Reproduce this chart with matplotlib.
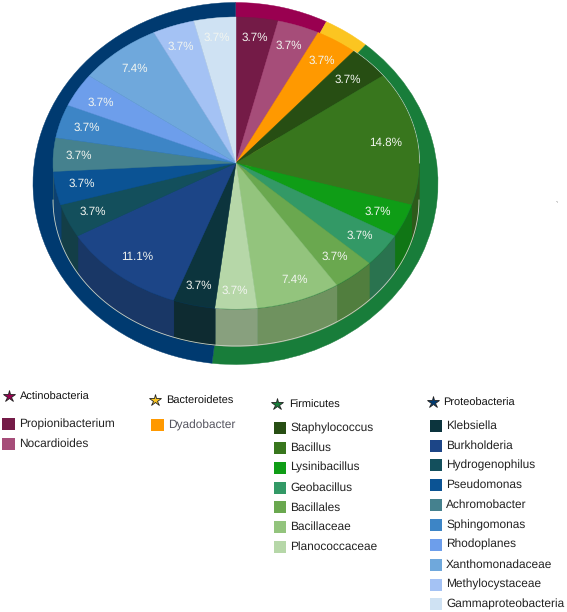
import numpy as np
import matplotlib
matplotlib.use('Agg')
import matplotlib.pyplot as plt

plt.rcParams['font.family'] = ['Liberation Sans', 'DejaVu Sans']
plt.rcParams['text.hinting'] = 'none'

W, H = 567, 612

# phylum level
phyla = ['Actinobacteria', 'Bacteroidetes', 'Firmicutes', 'Proteobacteria']
phylum_colors = ['#990050', '#fbc521', '#187d3a', '#003a70']

# genus level, clockwise from 12 o'clock
actino = ['Propionibacterium', 'Nocardioides']
actino_vals = [3.7, 3.7]
actino_colors = ['#741b47', '#a64d79']
bactero = ['Dyadobacter']
bactero_vals = [3.7]
bactero_colors = ['#ff9900']
firmi = ['Staphylococcus', 'Bacillus', 'Lysinibacillus', 'Geobacillus',
         'Bacillales', 'Bacillaceae', 'Planococcaceae']
firmi_vals = [3.7, 14.8, 3.7, 3.7, 3.7, 7.4, 3.7]
firmi_colors = ['#274e13', '#38761d', '#0f9d16', '#339966',
                '#6aa84f', '#93c47d', '#b6d7a8']
proteo = ['Klebsiella', 'Burkholderia', 'Hydrogenophilus', 'Pseudomonas',
          'Achromobacter', 'Sphingomonas', 'Rhodoplanes', 'Xanthomonadaceae',
          'Methylocystaceae', 'Gammaproteobacteria']
proteo_vals = [3.7, 11.1, 3.7, 3.7, 3.7, 3.7, 3.7, 7.4, 3.7, 3.7]
proteo_colors = ['#0c343d', '#1c4587', '#134f5c', '#0b5394', '#45818e',
                 '#3d85c6', '#6d9eeb', '#6fa8dc', '#a4c2f4', '#cfe2f3']

vals = actino_vals + bactero_vals + firmi_vals + proteo_vals
colors = actino_colors + bactero_colors + firmi_colors + proteo_colors
phylum_vals = [sum(actino_vals), sum(bactero_vals), sum(firmi_vals), sum(proteo_vals)]

# label centres in pixels, same order as vals
label_xy = [(255, 38), (289, 46), (322, 61), (348, 80), (386, 143), (378, 212),
            (360, 236), (335, 257), (295, 280), (235, 291), (199, 286), (137, 257),
            (93, 212), (82, 184), (79, 156), (87, 128), (101, 103), (135, 69),
            (181, 47), (217, 38)]

fig = plt.figure(figsize=(W / 100, H / 100), dpi=100)


def ellipse_axes(cx, cy, rx, ry, z):
    a = fig.add_axes([(cx - rx) / W, 1 - (cy + ry) / H, 2 * rx / W, 2 * ry / H], zorder=z)
    a.patch.set_alpha(0)
    return a


def pie_in(a, v, c):
    wedges, _ = a.pie(v, colors=c, startangle=90, counterclock=False, radius=1)
    for w, col in zip(wedges, c):
        w.set_edgecolor(col)
        w.set_linewidth(0.3)
    a.set_aspect('auto')
    a.set_xlim(-1, 1)
    a.set_ylim(-1, 1)


def pixel_axes(z):
    a = fig.add_axes([0, 0, 1, 1], zorder=z)
    a.patch.set_alpha(0)
    a.set_xlim(0, W)
    a.set_ylim(H, 0)
    a.axis('off')
    return a


# outer ring
ring = ellipse_axes(235.5, 183.5, 202.5, 181, 1)
pie_in(ring, phylum_vals, phylum_colors)

# side of the disc
cx, cy, rx, ry, depth = 236, 163, 183, 146, 37
side = pixel_axes(2)
ends = np.cumsum(vals) / sum(vals) * 360
starts = ends - np.array(vals) / sum(vals) * 360
for a0, a1, c in zip(starts, ends, colors):
    a0, a1 = max(a0, 90), min(a1, 270)
    if a1 <= a0:
        continue
    t = np.radians(np.linspace(a0, a1, 40))
    x = cx + rx * np.sin(t)
    y = cy - ry * np.cos(t)
    # dull the side a bit, the reference goes greyer not just darker
    rgb = np.array(matplotlib.colors.to_rgb(c)) * 0.72 + 0.02
    side.fill_between(x, y, y + depth, color=rgb, lw=0.2)
t = np.radians(np.linspace(90, 270, 200))
side.plot(cx + rx * np.sin(t), cy - ry * np.cos(t) + depth, color='#c9d2c6', lw=0.6)
t = np.radians(np.linspace(40, 90, 60))
side.plot(cx + (rx + 0.5) * np.sin(t), cy - (ry + 0.5) * np.cos(t), color='#c9d2c6', lw=0.6)

# top of the disc
top = ellipse_axes(cx, cy, rx, ry, 3)
pie_in(top, vals, colors)

# labels and legend
ax = pixel_axes(4)
for v, (lx, ly) in zip(vals, label_xy):
    ax.text(lx, ly, f'{v}%', color='#f2f5f0', fontsize=8.4, ha='center', va='center')


def legend_col(star_x, star_y, head_x, head_y, name, pcolor, box_x, first_y, labs, cols, text_x, tcolor='#222222'):
    ax.plot([star_x], [star_y], marker='*', ms=9, mfc=pcolor, mec='#222222', mew=0.6, ls='none')
    ax.text(head_x, head_y, name, fontsize=7.9, va='center', color='#111111')
    for i, (lab, col) in enumerate(zip(labs, cols)):
        yc = first_y + i * 19.85
        ax.fill([box_x, box_x + 12.5, box_x + 12.5, box_x],
                [yc - 6, yc - 6, yc + 6, yc + 6], color=col, lw=0)
        ax.text(text_x, yc, lab, fontsize=8.6, va='center', color=tcolor)


legend_col(9, 396, 19.5, 397, phyla[0], phylum_colors[0], 2, 424, actino, actino_colors, 19)
legend_col(155, 400, 166, 401, phyla[1], phylum_colors[1], 151, 425, bactero, bactero_colors, 168, '#555560')
legend_col(277, 404, 289.5, 405, phyla[2], phylum_colors[2], 273.5, 428, firmi, firmi_colors, 290)
legend_col(432.5, 402, 443, 403, phyla[3], phylum_colors[3], 429.5, 425.7, proteo, proteo_colors, 446)

# stray speck in the source image
ax.text(557, 201, '-.', fontsize=4, color='#777777', ha='center', va='center')

fig.savefig('out.png', dpi=100)
